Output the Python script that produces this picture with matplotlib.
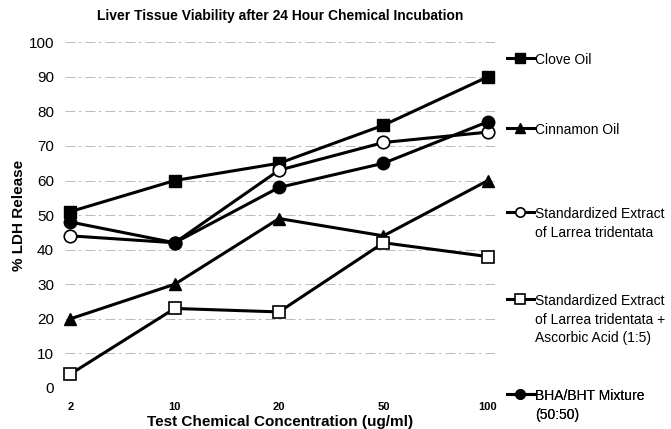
import matplotlib
matplotlib.use("Agg")
import matplotlib.pyplot as plt

# concentrations (ug/ml), plotted as evenly spaced categories
conc = ["2", "10", "20", "50", "100"]

clove_oil = [51, 60, 65, 76, 90]
cinnamon_oil = [20, 30, 49, 44, 60]
larrea = [44, 42, 63, 71, 74]
larrea_ascorbic = [4, 23, 22, 42, 38]
bha_bht = [48, 42, 58, 65, 77]

labels = ["Clove Oil",
          "Cinnamon Oil",
          "Standardized Extract\nof Larrea tridentata",
          "Standardized Extract\nof Larrea tridentata +\nAscorbic Acid (1:5)",
          "BHA/BHT Mixture\n(50:50)"]

plt.rcParams['font.family'] = ['Liberation Sans', 'DejaVu Sans']

fig = plt.figure(figsize=(6.71, 4.29), dpi=100)
ax = fig.add_axes([0.097, 0.0956, 0.641, 0.806])

x = list(range(len(conc)))
line_kw = dict(color="black", linewidth=2.2, markersize=9, clip_on=False)

handles = []
handles += ax.plot(x, clove_oil, marker="s", markerfacecolor="black", **line_kw)
handles += ax.plot(x, cinnamon_oil, marker="^", markerfacecolor="black", **line_kw)
handles += ax.plot(x, larrea, marker="o", markerfacecolor="white", markeredgewidth=1.2,
                   **line_kw)
handles += ax.plot(x, larrea_ascorbic, marker="s", markerfacecolor="white",
                   markeredgewidth=1.2, **line_kw)
handles += ax.plot(x, bha_bht, marker="o", markerfacecolor="black", **line_kw)

ax.set_xlim(-0.05, 4.07)
ax.set_ylim(0, 100)
ax.set_yticks(range(0, 101, 10))
ax.set_xticks(x)
ax.set_xticklabels(conc, fontsize=8, fontweight="bold")
ax.tick_params(axis="y", labelsize=11, length=0, pad=8)
ax.tick_params(axis="x", length=0, pad=10)
for s in ax.spines.values():
    s.set_visible(False)
ax.yaxis.grid(True, color="#b0b0b0", linewidth=0.6, linestyle=(0, (12, 4, 3, 5)))
ax.set_axisbelow(True)

ax.set_title("Liver Tissue Viability after 24 Hour Chemical Incubation",
             fontsize=10, fontweight="bold", pad=16)
ax.set_xlabel("Test Chemical Concentration (ug/ml)", fontsize=11, fontweight="bold",
              labelpad=2)
ax.set_ylabel("% LDH Release", fontsize=11, fontweight="bold", labelpad=2)

# one legend entry per series, stacked down the right side like the original
entry_tops = [0.969, 0.767, 0.522, 0.271, -0.004]
for h, lab, top in zip(handles, labels, entry_tops):
    leg = ax.legend([h], [lab], loc="upper left", bbox_to_anchor=(1.028, top),
                    frameon=False, fontsize=10, handlelength=1.9, handletextpad=0.1,
                    borderpad=0, borderaxespad=0, markerscale=0.75)
    for t in leg.get_texts():
        t.set_linespacing(1.4)
    # keep the handle level with the first line of the label
    for col in leg._legend_handle_box.get_children():
        for row in col.get_children():
            row.align = "top"
    ax.add_artist(leg)

fig.savefig("out.png", dpi=100)
